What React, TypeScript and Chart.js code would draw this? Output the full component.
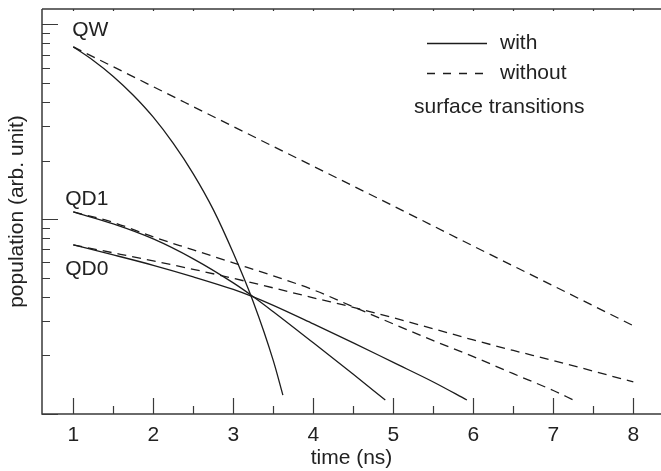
import React, { useEffect, useRef } from "react";
import { Chart, registerables } from "chart.js";

Chart.register(...registerables);

// ---- axis ticks ----
const xTicks = [1, 2, 3, 4, 5, 6, 7, 8];
const xMinorTicks = [1.5, 2.5, 3.5, 4.5, 5.5, 6.5, 7.5];
const yMajorTicks = [0.1, 1, 10];
const yMinorTicks = [0.2, 0.3, 0.4, 0.5, 0.6, 0.7, 0.8, 0.9, 2, 3, 4, 5, 6, 7, 8, 9];
const X_MIN = 0.609;
const X_MAX = 8.346;
const Y_MIN = 0.1;
const Y_MAX = 12;

// ---- series (time in ns, population in arb. units) ----
const qwWithT = [1, 1.25, 1.5, 1.75, 2, 2.25, 2.5, 2.75, 3, 3.25, 3.5, 3.62];
const qwWith = [7.67, 6.53, 5.41, 4.33, 3.34, 2.45, 1.71, 1.12, 0.67, 0.376, 0.188, 0.125];

const qwWithoutT = [1, 2, 3, 4, 5, 6, 7, 8];
const qwWithout = [7.67, 4.79, 2.99, 1.87, 1.17, 0.728, 0.455, 0.284];

const qd1WithT = [1, 1.5, 2, 2.5, 3, 3.25, 3.5, 4, 4.5, 4.9];
const qd1With = [1.09, 0.946, 0.792, 0.626, 0.471, 0.4, 0.335, 0.232, 0.16, 0.118];

const qd1WithoutT = [1, 1.5, 2, 2.5, 3, 3.5, 4, 4.5, 5, 5.5, 6, 6.5, 7, 7.25];
const qd1Without = [1.09, 0.963, 0.811, 0.696, 0.597, 0.512, 0.434, 0.355, 0.29, 0.238, 0.197, 0.161, 0.132, 0.118];

const qd0WithT = [1, 1.5, 2, 2.5, 3, 3.25, 3.5, 4, 4.5, 5, 5.5, 5.92];
const qd0With = [0.738, 0.656, 0.58, 0.506, 0.436, 0.399, 0.361, 0.29, 0.232, 0.184, 0.146, 0.118];

const qd0WithoutT = [1, 1.5, 2, 2.5, 3, 3.5, 4, 4.5, 5, 5.5, 6, 6.5, 7, 7.5, 8];
const qd0Without = [0.738, 0.672, 0.611, 0.553, 0.497, 0.444, 0.395, 0.353, 0.312, 0.274, 0.24, 0.212, 0.188, 0.166, 0.146];

const FONT = "'Liberation Sans', Arial, Helvetica, sans-serif";
const FONT_SIZE = 21;
const TEXT = "#222222";
const LINE = "#1c1c1c";
const AXIS = "#3a3a3a";
const DASH = [9, 6];

function pts(t: number[], v: number[]) {
  return t.map((x, i) => ({ x, y: v[i] }));
}

function ds(t: number[], v: number[], dashed: boolean) {
  return {
    data: pts(t, v),
    borderColor: LINE,
    borderWidth: 1.3,
    borderDash: dashed ? DASH : [],
    pointRadius: 0,
    fill: false,
    cubicInterpolationMode: "monotone" as const,
  };
}

const framePlugin = {
  id: "frame",
  afterDraw(chart: any) {
    const { ctx, chartArea: a, scales } = chart;
    const x = scales.x;
    const y = scales.y;
    ctx.save();
    ctx.strokeStyle = AXIS;
    ctx.lineWidth = 1.5;
    ctx.beginPath();
    ctx.moveTo(a.left, a.top);
    ctx.lineTo(a.right, a.top);
    ctx.moveTo(a.left, a.top);
    ctx.lineTo(a.left, a.bottom);
    ctx.lineTo(a.right, a.bottom);
    ctx.stroke();

    ctx.lineWidth = 1.2;
    ctx.beginPath();
    for (const v of xTicks) {
      const px = Math.round(x.getPixelForValue(v)) + 0.5;
      ctx.moveTo(px, a.bottom);
      ctx.lineTo(px, a.bottom - 16);
      ctx.moveTo(px, a.top);
      ctx.lineTo(px, a.top + 2);
    }
    for (const v of xMinorTicks) {
      const px = Math.round(x.getPixelForValue(v)) + 0.5;
      ctx.moveTo(px, a.bottom);
      ctx.lineTo(px, a.bottom - 8);
      ctx.moveTo(px, a.top);
      ctx.lineTo(px, a.top + 2);
    }
    for (const v of yMajorTicks) {
      const py = Math.round(y.getPixelForValue(v)) + 0.5;
      ctx.moveTo(a.left, py);
      ctx.lineTo(a.left + 16, py);
    }
    for (const v of yMinorTicks) {
      const py = Math.round(y.getPixelForValue(v)) + 0.5;
      ctx.moveTo(a.left, py);
      ctx.lineTo(a.left + 8, py);
    }
    ctx.stroke();

    // series labels
    ctx.fillStyle = TEXT;
    ctx.font = `${FONT_SIZE}px ${FONT}`;
    ctx.textBaseline = "middle";
    ctx.textAlign = "left";
    const x1 = x.getPixelForValue(1);
    ctx.fillText("QW", x1 - 1, y.getPixelForValue(qwWith[0]) - 17);
    ctx.fillText("QD1", x1 - 8, y.getPixelForValue(qd1With[0]) - 13);
    ctx.fillText("QD0", x1 - 8, y.getPixelForValue(qd0With[0]) + 24);

    // legend
    const lx0 = 427;
    const lx1 = 487;
    ctx.strokeStyle = LINE;
    ctx.lineWidth = 1.3;
    ctx.beginPath();
    ctx.moveTo(lx0, 43.5);
    ctx.lineTo(lx1, 43.5);
    ctx.stroke();
    ctx.setLineDash([8, 8]);
    ctx.beginPath();
    ctx.moveTo(lx0, 73.5);
    ctx.lineTo(lx1 + 2, 73.5);
    ctx.stroke();
    ctx.setLineDash([]);
    ctx.fillText("with", 500, 43);
    ctx.fillText("without", 500, 73);
    ctx.fillText("surface transitions", 414, 107);
    ctx.restore();
  },
};

export default function App() {
  const ref = useRef<HTMLCanvasElement | null>(null);
  useEffect(() => {
    if (!ref.current) return;
    const chart = new Chart(ref.current, {
      type: "line",
      data: {
        datasets: [
          ds(qwWithT, qwWith, false),
          ds(qwWithoutT, qwWithout, true),
          ds(qd1WithT, qd1With, false),
          ds(qd1WithoutT, qd1Without, true),
          ds(qd0WithT, qd0With, false),
          ds(qd0WithoutT, qd0Without, true),
        ],
      },
      options: {
        animation: false,
        responsive: false,
        layout: { padding: { top: 9, left: 0, right: 0, bottom: 0 } },
        plugins: { legend: { display: false }, tooltip: { enabled: false } },
        scales: {
          x: {
            type: "linear",
            min: X_MIN,
            max: X_MAX,
            afterBuildTicks: (axis: any) => {
              axis.ticks = xTicks.map((v) => ({ value: v }));
            },
            afterFit: (s: any) => {
              s.height = 57;
            },
            grid: { display: false, drawTicks: false },
            border: { display: false },
            ticks: {
              font: { size: FONT_SIZE, family: FONT },
              color: TEXT,
              padding: 9,
              maxRotation: 0,
              autoSkip: false,
            },
            title: {
              display: true,
              text: "time (ns)",
              font: { size: FONT_SIZE, family: FONT },
              color: TEXT,
              padding: { top: 0, bottom: 0 },
            },
          },
          y: {
            type: "logarithmic",
            min: Y_MIN,
            max: Y_MAX,
            afterFit: (s: any) => {
              s.width = 42;
            },
            grid: { display: false, drawTicks: false },
            border: { display: false },
            ticks: { display: false },
            title: {
              display: true,
              text: "population (arb. unit)",
              font: { size: FONT_SIZE, family: FONT },
              color: TEXT,
              padding: { top: 5, bottom: 0 },
            },
          },
        },
      },
      plugins: [framePlugin],
    });
    return () => chart.destroy();
  }, []);
  return (
    <div style={{ position: "fixed", left: 0, top: 0, width: 661, height: 471, background: "#fff" }}>
      <canvas ref={ref} width={661} height={471} style={{ display: "block" }} />
    </div>
  );
}
